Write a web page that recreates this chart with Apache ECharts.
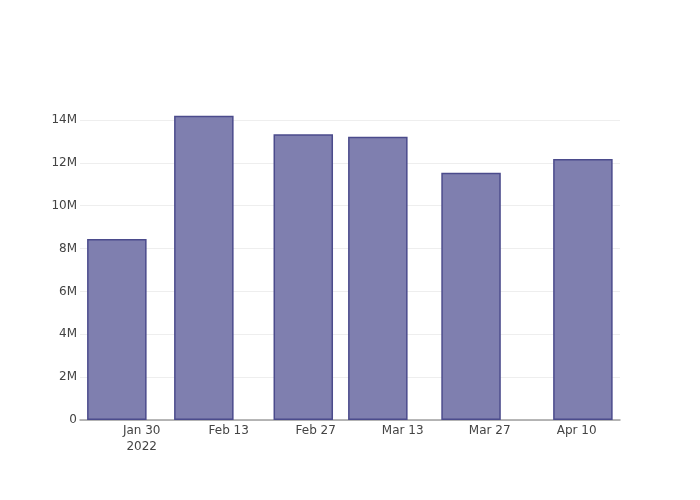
<!DOCTYPE html>
<html>
<head>
<meta charset="utf-8">
<script src="https://cdn.jsdelivr.net/npm/echarts@6/dist/echarts.min.js"></script>
<style>html,body{margin:0;padding:0;background:#fff;}#c{width:700px;height:500px;}</style>
</head>
<body>
<div id="c"></div>
<script>
const dates = ['2022-01-26','2022-02-09','2022-02-25','2022-03-09','2022-03-24','2022-04-11'];
const values = [8450000, 14190000, 13330000, 13210000, 11530000, 12180000];
const tickDates = ['2022-01-30','2022-02-13','2022-02-27','2022-03-13','2022-03-27','2022-04-10'];
const tickLabels = ['Jan 30\n2022','Feb 13','Feb 27','Mar 13','Mar 27','Apr 10'];

const DAY = 86400000;
const origin = Date.parse(tickDates[0]);
const toDay = d => (Date.parse(d) - origin) / DAY;
const tickVals = tickDates.map(toDay);
const tickMap = {};
tickVals.forEach((v, i) => { tickMap[Math.round(v)] = tickLabels[i]; });

const chart = echarts.init(document.getElementById('c'));
chart.setOption({
  animation: false,
  backgroundColor: '#fff',
  textStyle: { fontFamily: 'DejaVu Sans' },
  grid: { left: 80, right: 80, top: 100, bottom: 80, containLabel: false },
  xAxis: {
    type: 'value',
    min: -9.93,
    max: 76.97,
    axisLine: { show: true, onZero: false, lineStyle: { color: '#a0a0a0', width: 1.5 } },
    axisTick: { show: false },
    splitLine: { show: false },
    axisLabel: {
      color: '#444', fontSize: 12, fontFamily: 'DejaVu Sans', margin: 3, lineHeight: 16,
      customValues: tickVals,
      formatter: v => { const k = Math.round(v); return tickMap[k] !== undefined ? tickMap[k] : ''; }
    }
  },
  yAxis: {
    type: 'value',
    min: 0,
    max: 14930000,
    interval: 2000000,
    axisLine: { show: false },
    axisTick: { show: false },
    splitLine: { show: true, showMaxLine: false, lineStyle: { color: '#eeeeee', width: 1 } },
    axisLabel: {
      color: '#444', fontSize: 12, fontFamily: 'DejaVu Sans', margin: 3,
      showMaxLabel: false,
      formatter: v => (v % 2000000 !== 0) ? '' : (v === 0 ? '0' : (v / 1000000) + 'M')
    }
  },
  series: [{
    type: 'bar',
    data: dates.map((d, i) => [toDay(d), values[i]]),
    barWidth: 59.5,
    itemStyle: { color: '#7f7faf', borderColor: '#4b4b8c', borderWidth: 1.5 }
  }]
});
</script>
</body>
</html>
